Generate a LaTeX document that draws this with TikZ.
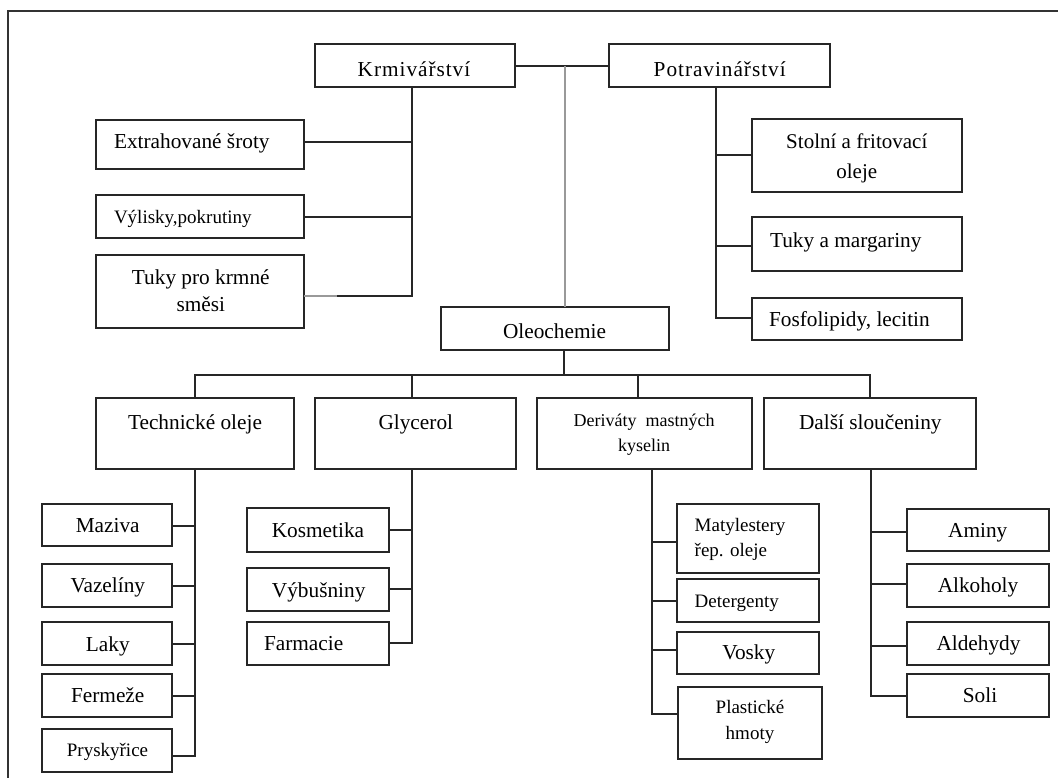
\documentclass[tikz,border=0pt]{standalone}
\usepackage{fontspec}
\setmainfont{Liberation Serif}
\newcommand\mkbox[5]{\node[box, minimum width={#4-#2}, minimum height={#5-#3}] (#1) at ({(#2+#4)/2},{(#3+#5)/2}) {};}
\begin{document}
\begin{tikzpicture}[x=1pt,y=-1pt,
  box/.style={draw=black!85, line width=1.4pt, inner sep=0pt, outer sep=0pt, rectangle},
  link/.style={draw=black!85, line width=1.5pt},
  glink/.style={draw=black!40, line width=1.7pt},
  frame/.style={draw=black!80, line width=1.4pt},
  lbl/.style={inner sep=0pt, outer sep=0pt, anchor=base, text=black, font=\fontsize{21.3}{28}\selectfont},
  sml/.style={lbl, font=\fontsize{19}{25}\selectfont},
  spaced/.style={lbl, font=\fontsize{21.3}{28}\selectfont\addfontfeature{LetterSpace=4.5}},
]
\useasboundingbox (0,0) rectangle (1058,778);
\draw[frame] (1058,11) -- (8,11) -- (8,778);

% boxes
\mkbox{krm}{315}{44}{515}{87}
\mkbox{pot}{609}{44}{830}{87}
\mkbox{extr}{96}{120}{304}{169}
\mkbox{vyl}{96}{195}{304}{238}
\mkbox{tukk}{96}{255}{304}{328}
\mkbox{stol}{752}{119}{962}{192}
\mkbox{marg}{752}{217}{962}{271}
\mkbox{fosf}{752}{298}{962}{340}
\mkbox{oleo}{441}{307}{669}{350}
\mkbox{tech}{96}{398}{294}{469}
\mkbox{gly}{315}{398}{516}{469}
\mkbox{der}{537}{398}{752}{469}
\mkbox{dal}{764}{398}{976}{469}
\mkbox{maz}{42}{504}{172}{546}
\mkbox{vaz}{42}{564}{172}{607}
\mkbox{lak}{42}{622}{172}{665}
\mkbox{fer}{42}{674}{172}{717}
\mkbox{prys}{42}{729}{172}{772}
\mkbox{kos}{247}{508}{389}{552}
\mkbox{vyb}{247}{568}{389}{611}
\mkbox{farm}{247}{622}{389}{665}
\mkbox{mat}{677}{504}{819}{573}
\mkbox{det}{677}{579}{819}{622}
\mkbox{vos}{677}{632}{819}{674}
\mkbox{pla}{678}{687}{822}{759}
\mkbox{ami}{907}{509}{1049}{551}
\mkbox{alk}{907}{564}{1049}{607}
\mkbox{ald}{907}{622}{1049}{665}
\mkbox{sol}{907}{674}{1049}{717}

% texts
\node[spaced] (krmt) at (414,77) {Krmivářství};
\node[spaced] (pott) at (719.7,77) {Potravinářství};
\node[lbl, anchor=base west] (extrt) at (114,149) {Extrahované šroty};
\node[sml, anchor=base west] (vylt) at (114,224) {Výlisky,pokrutiny};
\node[lbl] (tukkt) at (200.8,284) {\begin{tabular}[t]{@{}c@{}}Tuky pro krmné\\směsi\end{tabular}};
\node[lbl, font=\fontsize{21}{30}\selectfont] (stolt) at (856.8,148.3) {\begin{tabular}[t]{@{}c@{}}Stolní a fritovací\\oleje\end{tabular}};
\node[lbl, anchor=base west] (margt) at (770,248) {Tuky a margariny};
\node[lbl, anchor=base west] (fosft) at (769,326.7) {Fosfolipidy, lecitin};
\node[lbl] (oleot) at (554.5,338) {Oleochemie};
\node[lbl] (techt) at (195,429.3) {Technické oleje};
\node[lbl] (glyt) at (415.8,429.3) {Glycerol};
\node[lbl, font=\fontsize{18}{25}\selectfont] (dert) at (644,426) {\begin{tabular}[t]{@{}c@{}}Deriváty~ mastných\\kyselin\end{tabular}};
\node[lbl] (dalt) at (870.3,429.3) {Další sloučeniny};
\node[lbl] (mazt) at (107.7,532.7) {Maziva};
\node[lbl] (vazt) at (107.8,592.7) {Vazelíny};
\node[lbl] (lakt) at (107.8,651) {Laky};
\node[lbl] (fert) at (107.7,702.7) {Fermeže};
\node[sml] (pryst) at (107.5,756.7) {Pryskyřice};
\node[lbl] (kost) at (318,537.3) {Kosmetika};
\node[lbl] (vybt) at (318.7,597.3) {Výbušniny};
\node[lbl, anchor=base west] (farmt) at (264,650.7) {Farmacie};
\node[sml, anchor=base west] (matt) at (694.7,531.7) {\begin{tabular}[t]{@{}l@{}}Matylestery\\řep. oleje\end{tabular}};
\node[sml, anchor=base west] (dett) at (694.7,607.7) {Detergenty};
\node[lbl] (vost) at (748.8,659.3) {Vosky};
\node[sml, font=\fontsize{19}{26}\selectfont] (plat) at (750,713) {\begin{tabular}[t]{@{}c@{}}Plastické\\hmoty\end{tabular}};
\node[lbl] (amit) at (977.8,537.3) {Aminy};
\node[lbl] (alkt) at (978,592.3) {Alkoholy};
\node[lbl] (aldt) at (978.5,650.7) {Aldehydy};
\node[lbl] (solt) at (980,702.3) {Soli};

% top connectors
\draw[link] ([yshift=-0.5pt]krm.east) -- ([yshift=-0.5pt]pot.west);
\coordinate (gj) at (565,66);
\draw[glink] (gj) -- (gj |- oleo.north);
\draw[link] ([xshift=-3pt]krm.south) |- ([yshift=2.5pt]extr.east);
\draw[link] ([xshift=-3pt]krm.south) |- ([yshift=-0.5pt]vyl.east);
\draw[link] ([xshift=-3pt]krm.south) |- ([yshift=-4.5pt]tukk.east);
\draw[glink] ([yshift=-4.5pt]tukk.east) -- ++(33,0);
\draw[link] ([xshift=-3.5pt]pot.south) |- ([yshift=0.5pt]stol.west);
\draw[link] ([xshift=-3.5pt]pot.south) |- ([yshift=-2pt]marg.west);
\draw[link] ([xshift=-3.5pt]pot.south) |- ([yshift=1pt]fosf.west);

% oleochemie bus
\draw[link] ([xshift=9pt]oleo.south) -- ++(0,25);
\draw[link] (tech.north) -- ++(0,-23) -| (dal.north);
\draw[link] ([xshift=-3.5pt]gly.north) -- ++(0,-23);
\draw[link] ([xshift=-6.5pt]der.north) -- ++(0,-23);

% technicke oleje
\draw[link] (tech.south) |- ([yshift=-1pt]maz.east);
\draw[link] (tech.south) |- ([yshift=-0.5pt]vaz.east);
\draw[link] (tech.south) |- ([yshift=-0.5pt]lak.east);
\draw[link] (tech.south) |- ([yshift=-0.5pt]fer.east);
\draw[link] (tech.south) |- ([yshift=-5.5pt]prys.east);

% glycerol
\draw[link] ([xshift=-3.5pt]gly.south) |- (kos.east);
\draw[link] ([xshift=-3.5pt]gly.south) |- ([yshift=0.5pt]vyb.east);
\draw[link] ([xshift=-3.5pt]gly.south) |- ([yshift=0.5pt]farm.east);

% derivaty
\draw[link] ([xshift=7.5pt]der.south) |- ([yshift=-3.5pt]mat.west);
\draw[link] ([xshift=7.5pt]der.south) |- ([yshift=-0.5pt]det.west);
\draw[link] ([xshift=7.5pt]der.south) |- ([yshift=3pt]vos.west);
\draw[link] ([xshift=7.5pt]der.south) |- ([yshift=9pt]pla.west);

% dalsi slouceniny
\draw[link] ([xshift=1pt]dal.south) |- ([yshift=-2pt]ami.west);
\draw[link] ([xshift=1pt]dal.south) |- ([yshift=1.5pt]alk.west);
\draw[link] ([xshift=1pt]dal.south) |- ([yshift=-2.5pt]ald.west);
\draw[link] ([xshift=1pt]dal.south) |- ([yshift=-0.5pt]sol.west);
\end{tikzpicture}
\end{document}
